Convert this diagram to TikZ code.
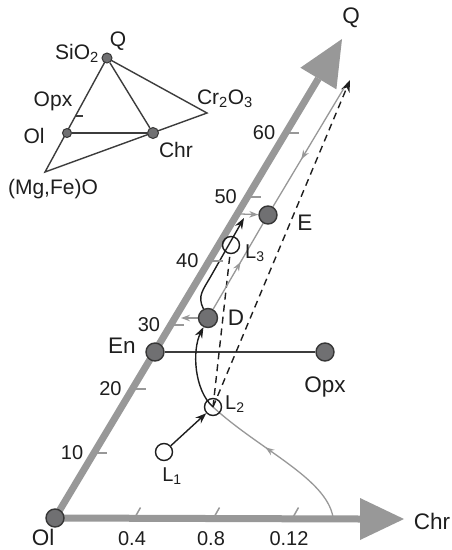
\documentclass[tikz,border=0pt]{standalone}
\usepackage{fontspec}
\setmainfont{Liberation Sans}
\usetikzlibrary{arrows.meta,decorations.markings,backgrounds}
\definecolor{axisgray}{RGB}{152,152,152}
\definecolor{nodefill}{RGB}{112,112,114}
\definecolor{nodeline}{RGB}{55,55,55}
\definecolor{textc}{RGB}{30,30,30}
\definecolor{darkl}{RGB}{60,60,60}
\begin{document}
\begin{tikzpicture}[x=1pt,y=-1pt,
  dot/.style={circle,draw=nodeline,fill=nodefill,line width=1.4pt,minimum size=18pt,inner sep=0pt},
  odot/.style={circle,draw=textc,line width=1.4pt,minimum size=17pt,inner sep=0pt},
  sdot/.style={circle,draw=nodeline,fill=nodefill,line width=1pt,minimum size=10pt,inner sep=0pt},
  lab/.style={font=\fontsize{22.5}{25}\selectfont,text=textc,inner sep=0pt},
  ilab/.style={font=\fontsize{21}{24}\selectfont,text=textc,inner sep=0pt},
  num/.style={font=\fontsize{20}{22}\selectfont,text=textc,inner sep=0pt},
  llab/.style={font=\fontsize{20}{22}\selectfont,text=textc,inner sep=0pt},
  axisline/.style={line width=7pt,draw=axisgray},
  gline/.style={line width=1.3pt,draw=axisgray},
  bline/.style={line width=1.4pt,draw=textc},
  dline/.style={line width=1.4pt,draw=textc,dash pattern=on 7pt off 5pt},
  iline/.style={line width=1.4pt,draw=darkl},
  gtip/.style={-{Stealth[length=9pt,width=6.5pt]}},
  btip/.style={-{Stealth[length=11pt,width=8pt]}},
  midarrow/.style={postaction={decorate},decoration={markings,
     mark=at position #1 with {\arrow[axisgray]{Stealth[length=9pt,width=6.5pt]}}}}]
\useasboundingbox (0,0) rectangle (451,550);

% ---------- main nodes ----------
\node[dot] (Ol) at (55,518) {};
\node[dot] (En) at (155,352) {};
\node[dot] (Opx) at (325,352) {};
\node[dot,minimum size=19pt] (D) at (208,318) {};
\node[dot] (E) at (268,215) {};
\node[odot] (L1) at (164,452) {};
\node[odot] (L2) at (213,407) {};
\node[odot] (L3) at (231,245) {};

\coordinate (Qtip) at (342,39);
\coordinate (Qb) at (318.4,78.5);
\coordinate (Chrtip) at (404,519);
\coordinate (Chrb) at (360,519);
\coordinate (Cstart) at (333,517);
\coordinate (Btop) at (350,80);
\coordinate (Gtop) at (344,88);
\coordinate (L3end) at (244,218);
\coordinate (Eax) at (241,214);
\coordinate (Dax) at (181,318);

% ---------- labels ----------
\node[lab] (Qlab) at (351,18) {Q};
\node[lab] (Chrlab) at (432,521) {Chr};
\node[lab] (Ollab) at (43,537.5) {Ol};
\node[lab] (Enlab) at (122,346) {En};
\node[lab] (Opxlab) at (325,387) {Opx};
\node[lab] (Dlab) at (236,318) {D};
\node[lab] (Elab) at (305,223) {E};
\node[llab,anchor=west] (L3lab) at (245,253) {L\textsubscript{3}};
\node[llab,anchor=west] (L2lab) at (225,404) {L\textsubscript{2}};
\node[llab] (L1lab) at (172,476) {L\textsubscript{1}};
\node[num] at (132,539) {0.4};
\node[num] at (211,539) {0.8};
\node[num] at (289,539) {0.12};

% ticks and numbers on the Q axis
\foreach \k/\t in {1/10,2/20,3/30,4/40,5/50,6/60}{
  \pgfmathsetmacro{\px}{55+38.4*\k}
  \pgfmathsetmacro{\py}{517-64*\k}
  \draw[axisgray,line width=1.5pt] (\px,\py) -- ++(14,0);
  \node[num,anchor=east] at (\px-10,\py) {\t};
}
% ticks on the Chr axis
\foreach \x in {135,214,293}{
  \draw[axisgray,line width=1.5pt] (\x-1,519) -- ++(6.5,-11.5);
}

% ---------- connectors ----------
\begin{scope}[on background layer]
  \fill[white] (0,0) rectangle (451,550);
  \draw[axisline] (Ol.center) -- (Qb);
  \fill[axisgray] (Qtip) -- (300.4,67.7) -- (336.4,89.3) -- cycle;
  \draw[axisline] (Ol.center) -- (Chrb);
  \fill[axisgray] (Chrtip) -- (360,498) -- (360,540) -- cycle;
  \draw[line width=2pt,draw=darkl] (En) -- (Opx);
  \draw[gline,midarrow=0.6] (Cstart) .. controls (326,478) and (260,450) .. (L2.center);
  \draw[bline,btip] (L2.center) .. controls (194,390) and (192,350) .. (D);
  \draw[bline,btip] (L1) -- (L2);
  \draw[dline] (L2.center) -- (L3);
  \draw[dline,-{Stealth[length=12pt,width=9pt]}] (L2.center) -- (Btop);
  \draw[bline,btip] (D) .. controls (197,296) and (203,290) .. (211,276) -- (L3end);
  \draw[gline,midarrow=0.55] (D) -- (E);
  \draw[gline,midarrow=0.6] (Gtop) -- (E);
  \draw[gline,gtip] (Eax) -- (E);
  \draw[gline,gtip] (D) -- (Dax);
\end{scope}

% ---------- inset triangle ----------
\node[sdot] (iQ) at (107,58) {};
\node[sdot,minimum size=9pt] (iOl) at (67,133) {};
\node[sdot,minimum size=11pt] (iChr) at (153,133) {};
\coordinate (iCr) at (207,113);
\coordinate (iMg) at (45,172);
\begin{scope}[on background layer]
  \draw[iline,line join=miter] (iQ.center) -- (iCr) -- (iMg) -- cycle;
  \draw[iline] (iQ) -- (iChr);
  \draw[iline] (iOl) -- (iChr);
  \draw[iline] (75.5,116) -- ++(7,0);
\end{scope}
\node[ilab] (iSi) at (77,53) {SiO\textsubscript{2}};
\node[ilab] (iQl) at (118,41) {Q};
\node[ilab] (iOpx) at (53,101) {Opx};
\node[ilab] (iOll) at (34,136) {Ol};
\node[ilab] (iChrl) at (176,150) {Chr};
\node[ilab] (iCrl) at (225,99) {Cr\textsubscript{2}O\textsubscript{3}};
\node[ilab] (iMgl) at (53,189) {(Mg,Fe)O};
\end{tikzpicture}
\end{document}
